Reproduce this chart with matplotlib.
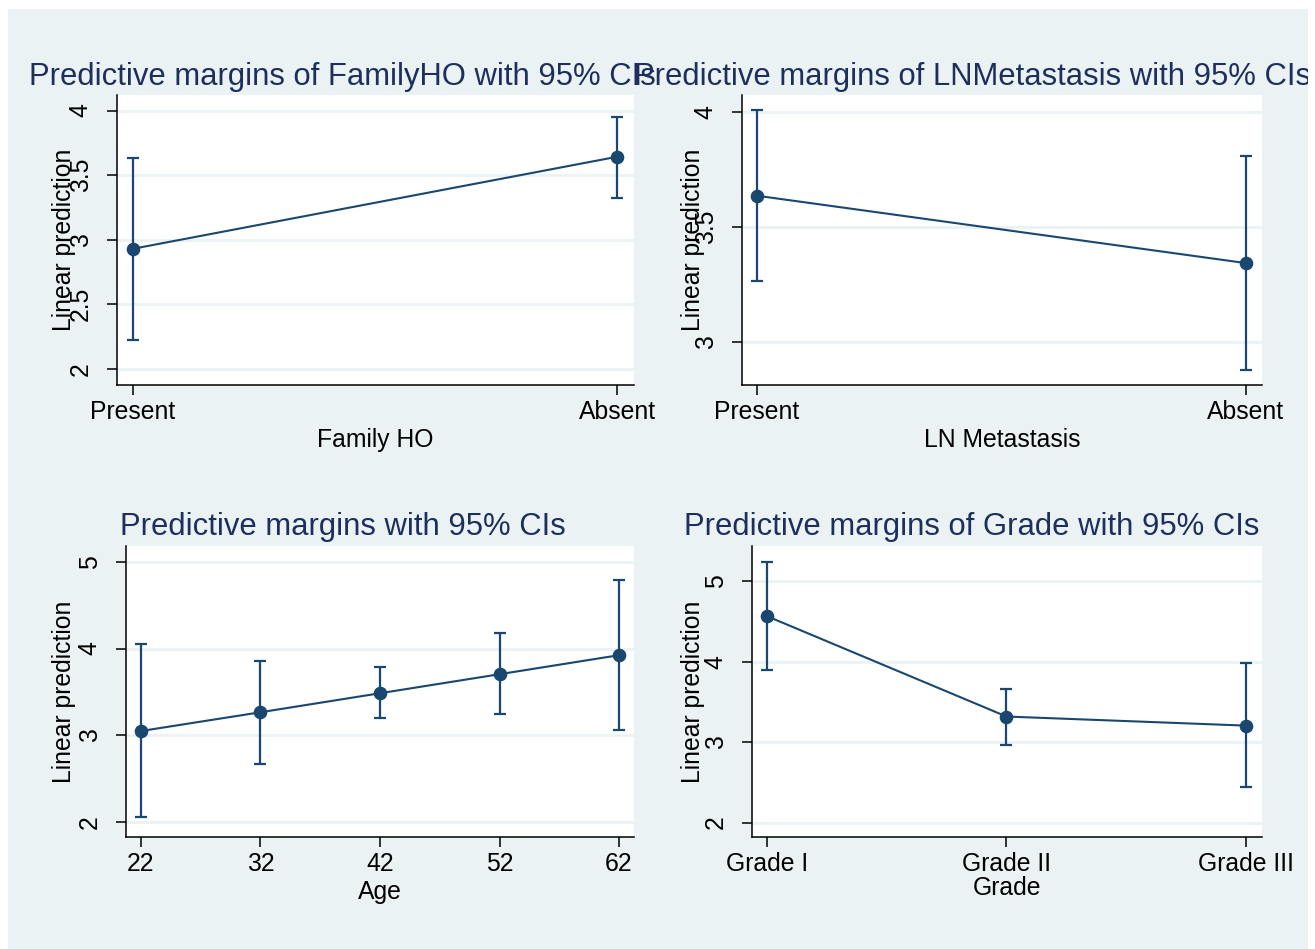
import matplotlib
matplotlib.use("Agg")
import matplotlib.pyplot as plt
from matplotlib.patches import Rectangle
from matplotlib.transforms import Bbox, TransformedBbox

plt.rcParams['font.family'] = ['Liberation Sans', 'DejaVu Sans']

# margins data: point estimate with 95% CI bounds
family_labels = ["Present", "Absent"]
family_margin = [2.93, 3.642]
family_lo = [2.227, 3.325]
family_hi = [3.634, 3.951]

ln_labels = ["Present", "Absent"]
ln_margin = [3.635, 3.342]
ln_lo = [3.264, 2.877]
ln_hi = [4.006, 3.807]

age_values = [22, 32, 42, 52, 62]
age_margin = [3.05, 3.266, 3.485, 3.704, 3.923]
age_lo = [2.06, 2.666, 3.197, 3.243, 3.058]
age_hi = [4.05, 3.854, 3.785, 4.177, 4.789]

grade_labels = ["Grade I", "Grade II", "Grade III"]
grade_margin = [4.564, 3.317, 3.204]
grade_lo = [3.89, 2.968, 2.444]
grade_hi = [5.24, 3.653, 3.978]

W, H = 1315, 949
BG = "#eaf2f3"
NAVY = "#1a476f"
TITLE = "#1e2f5c"
FS = 17.8

fig = plt.figure(figsize=(W / 100, H / 100), dpi=100, facecolor="white")
bg = Rectangle((8 / W, 0), 1300 / W, 1 - 9 / H, transform=fig.transFigure,
               facecolor=BG, edgecolor="none", zorder=-10)
fig.patches.append(bg)
bg_clip = TransformedBbox(Bbox([[8 / W, 0], [1308 / W, 1 - 9 / H]]), fig.transFigure)


def px_axes(x0, y0, x1, y1):
    return fig.add_axes([x0 / W, 1 - y1 / H, (x1 - x0) / W, (y1 - y0) / H])


def margins_panel(ax, x, est, lo, hi, xlim, ylim, yticks, ytick_labels,
                  xticklabels, xlabel, label_x):
    ax.set_facecolor("white")
    err = [[e - l for e, l in zip(est, lo)], [h - e for e, h in zip(est, hi)]]
    ax.errorbar(x, est, yerr=err, fmt="none", ecolor=NAVY, elinewidth=1.6,
                capsize=4.3, capthick=1.6, zorder=3)
    ax.plot(x, est, "-o", color=NAVY, lw=1.5, markersize=8.8, zorder=4)
    ax.set_xlim(*xlim)
    ax.set_ylim(*ylim)
    ax.set_xticks(x)
    ax.set_xticklabels(xticklabels)
    ax.set_yticks(yticks)
    ax.set_yticklabels(ytick_labels)
    ax.grid(axis="y", color=BG, lw=2)
    ax.set_axisbelow(True)
    for s in ("top", "right"):
        ax.spines[s].set_visible(False)
    for s in ("left", "bottom"):
        ax.spines[s].set_linewidth(1.1)
    ax.tick_params(axis="both", length=7, width=1.1, labelsize=FS, colors="black")
    ax.tick_params(axis="x", pad=3.5)
    ax.tick_params(axis="y", pad=10.5, labelrotation=90)
    for t in ax.get_yticklabels():
        t.set_verticalalignment("center")
    ax.set_xlabel(xlabel, fontsize=FS, labelpad=3)
    ax.set_ylabel("Linear prediction", fontsize=FS)
    ax.yaxis.set_label_coords(label_x, 0.5)


# top-left: family history
ax1 = px_axes(117, 95, 634, 385)
margins_panel(ax1, [0, 1], family_margin, family_lo, family_hi,
              (-0.033, 1.035), (1.876, 4.12), [2, 2.5, 3, 3.5, 4],
              ["2", "2.5", "3", "3.5", "4"], family_labels, "Family HO",
              (76 - 117) / 517)

# top-right: lymph node metastasis
ax2 = px_axes(742, 95, 1262, 385)
margins_panel(ax2, [0, 1], ln_margin, ln_lo, ln_hi,
              (-0.0307, 1.0327), (2.812, 4.073), [3, 3.5, 4],
              ["3", "3.5", "4"], ln_labels, "LN Metastasis",
              (705 - 742) / 520)

# bottom-left: age
ax3 = px_axes(126, 546, 634, 837)
margins_panel(ax3, age_values, age_margin, age_lo, age_hi,
              (20.745, 63.255), (1.83, 5.18), [2, 3, 4, 5],
              ["2", "3", "4", "5"], [str(a) for a in age_values], "Age",
              (76 - 126) / 508)

# bottom-right: tumour grade
ax4 = px_axes(752, 546, 1262, 837)
margins_panel(ax4, [0, 1, 2], grade_margin, grade_lo, grade_hi,
              (-0.0626, 2.0668), (1.82, 5.436), [2, 3, 4, 5],
              ["2", "3", "4", "5"], grade_labels, "Grade",
              (705 - 752) / 510)
ax4.xaxis.labelpad = 0

titles = [
    ("Predictive margins of FamilyHO with 95% CIs", 342, 85),
    ("Predictive margins of LNMetastasis with 95% CIs", 972, 85),
    ("Predictive margins with 95% CIs", 343, 535),
    ("Predictive margins of Grade with 95% CIs", 972, 535),
]
for text, cx, by in titles:
    t = fig.text(cx / W, 1 - by / H, text, ha="center", va="baseline",
                 fontsize=22.3, color=TITLE)
    t.set_clip_box(bg_clip)
    t.set_clip_on(True)

fig.savefig("out.png", dpi=100, facecolor="white")
